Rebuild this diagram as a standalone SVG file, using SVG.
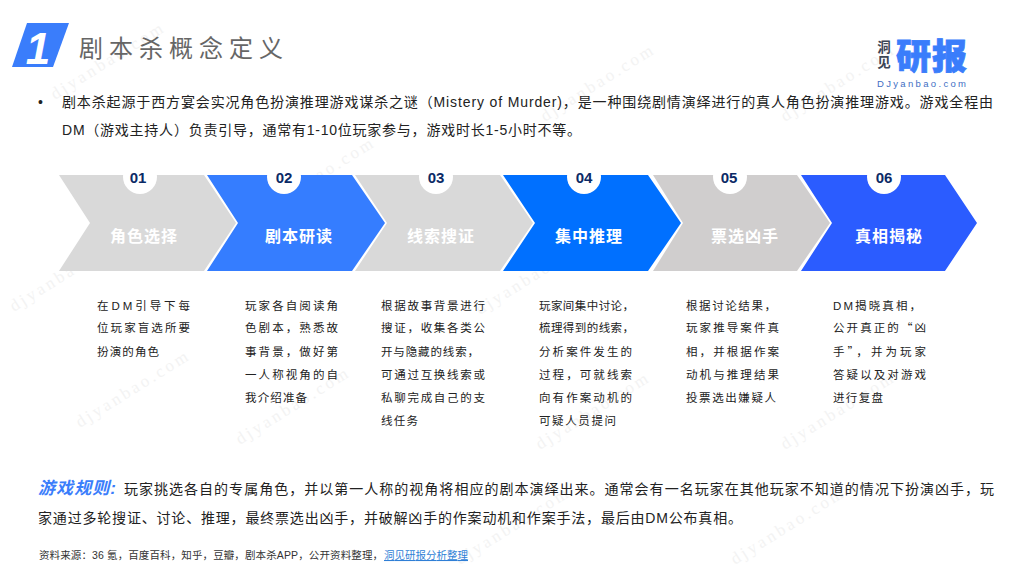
<svg xmlns="http://www.w3.org/2000/svg" width="1024" height="576" viewBox="0 0 1024 576">
<style>
text{font-family:"Liberation Sans","Noto Sans CJK SC",sans-serif}
.b{font-size:14px;fill:#222}
.d{font-size:11.5px;fill:#222}
.q{font-family:"Noto Sans CJK SC",sans-serif}
.n{font-size:15px;font-weight:700;fill:#0b2a66;text-anchor:middle}
.l{font-size:16px;font-weight:700;fill:#fff;text-anchor:middle;letter-spacing:1px}
.w{font-family:"Liberation Serif","Noto Sans CJK SC",serif;font-size:17px;fill:#f3f3f3;letter-spacing:3px}
</style>
<g id="watermark">
<text class="w" transform="translate(55 100) rotate(-32)">djyanbao.com</text>
<text class="w" transform="translate(545 122) rotate(-32)">djyanbao.com</text>
<text class="w" transform="translate(785 122) rotate(-32)">djyanbao.com</text>
<text class="w" transform="translate(14 312) rotate(-32)">djyanbao.com</text>
<text class="w" transform="translate(265 215) rotate(-32)">djyanbao.com</text>
<text class="w" transform="translate(480 315) rotate(-32)">djyanbao.com</text>
<text class="w" transform="translate(80 428) rotate(-32)">djyanbao.com</text>
<text class="w" transform="translate(240 445) rotate(-32)">djyanbao.com</text>
<text class="w" transform="translate(540 450) rotate(-32)">djyanbao.com</text>
<text class="w" transform="translate(785 450) rotate(-32)">djyanbao.com</text>
<text class="w" transform="translate(460 565) rotate(-32)">djyanbao.com</text>
<text class="w" transform="translate(735 565) rotate(-32)">djyanbao.com</text>
</g>
<g id="title">
<polygon points="27,23 69,23 53,67 12,67" fill="#3a7dfb"/>
<text x="38" y="64" font-size="44" font-weight="700" font-style="italic" fill="#fff" text-anchor="middle">1</text>
<text x="79" y="57" font-size="24" fill="#666" textLength="204">剧本杀概念定义</text>
</g>
<g id="logo">
<text x="884" y="52" font-size="13.5" font-weight="700" fill="#3d4655" text-anchor="middle">洞</text>
<text x="884" y="67" font-size="13.5" font-weight="700" fill="#3d4655" text-anchor="middle">见</text>
<text x="896" y="69" font-size="35" font-weight="900" fill="#3a7dfb" textLength="71" stroke="#3a7dfb" stroke-width="0.8">研报</text>
<text x="877" y="87" font-size="9.5" fill="#3f6fc4" textLength="89">DJyanbao.com</text>
</g>
<g id="intro">
<text x="38" y="107" font-size="14" fill="#222">•</text>
<text class="b" x="62" y="107" textLength="931">剧本杀起源于西方宴会实况角色扮演推理游戏谋杀之谜（Mistery of Murder)，是一种围绕剧情演绎进行的真人角色扮演推理游戏。游戏全程由</text>
<text class="b" x="62" y="135" textLength="519">DM（游戏主持人）负责引导，通常有1-10位玩家参与，游戏时长1-5小时不等。</text>
</g>
<g id="step1"><polygon points="59,175 204,175 236,223 204,271 59,271 90,223" fill="#d9d9d9"/><circle cx="140" cy="177" r="17" fill="#fff"/><text class="n" x="138" y="183">01</text><text class="l" x="144" y="242">角色选择</text></g>
<g id="step2"><polygon points="207,175 352,175 385,223 352,271 207,271 238,223" fill="#357dff"/><circle cx="284" cy="177" r="17" fill="#fff"/><text class="n" x="284" y="183">02</text><text class="l" x="299" y="242">剧本研读</text></g>
<g id="step3"><polygon points="355,175 500,175 533,223 500,271 355,271 387,223" fill="#d9d9d9"/><circle cx="436" cy="177" r="17" fill="#fff"/><text class="n" x="436" y="183">03</text><text class="l" x="441" y="242">线索搜证</text></g>
<g id="step4"><polygon points="503,175 648,175 681,223 648,271 503,271 535,223" fill="#0070ff"/><circle cx="584" cy="177" r="17" fill="#fff"/><text class="n" x="584" y="183">04</text><text class="l" x="589" y="242">集中推理</text></g>
<g id="step5"><polygon points="653,175 797,175 830,223 797,271 653,271 683,223" fill="#d0cece"/><circle cx="730" cy="177" r="17" fill="#fff"/><text class="n" x="729" y="183">05</text><text class="l" x="745" y="242">票选凶手</text></g>
<g id="step6"><polygon points="801,175 945,175 977,223 945,271 801,271 832,223" fill="#2b5cff"/><circle cx="884" cy="177" r="17" fill="#fff"/><text class="n" x="884" y="183">06</text><text class="l" x="889" y="242">真相揭秘</text></g>
<g id="desc1">
<text class="d" x="97" y="310" textLength="93">在DM引导下每</text>
<text class="d" x="97" y="332" textLength="93">位玩家盲选所要</text>
<text class="d" x="97" y="356" textLength="62">扮演的角色</text>
</g>
<g id="desc2">
<text class="d" x="245" y="310" textLength="93">玩家各自阅读角</text>
<text class="d" x="245" y="332" textLength="93">色剧本，熟悉故</text>
<text class="d" x="245" y="356" textLength="93">事背景，做好第</text>
<text class="d" x="245" y="379" textLength="93">一人称视角的自</text>
<text class="d" x="245" y="402" textLength="62">我介绍准备</text>
</g>
<g id="desc3">
<text class="d" x="381" y="310" textLength="104">根据故事背景进行</text>
<text class="d" x="381" y="332" textLength="104">搜证，收集各类公</text>
<text class="d" x="381" y="356" textLength="98">开与隐藏的线索，</text>
<text class="d" x="381" y="379" textLength="104">可通过互换线索或</text>
<text class="d" x="381" y="402" textLength="104">私聊完成自己的支</text>
<text class="d" x="381" y="425" textLength="37">线任务</text>
</g>
<g id="desc4">
<text class="d" x="539" y="310" textLength="95">玩家间集中讨论，</text>
<text class="d" x="539" y="332" textLength="95">梳理得到的线索，</text>
<text class="d" x="539" y="356" textLength="93">分析案件发生的</text>
<text class="d" x="539" y="379" textLength="93">过程，可就线索</text>
<text class="d" x="539" y="402" textLength="93">向有作案动机的</text>
<text class="d" x="539" y="425" textLength="77">可疑人员提问</text>
</g>
<g id="desc5">
<text class="d" x="686" y="310" textLength="90">根据讨论结果，</text>
<text class="d" x="686" y="332" textLength="93">玩家推导案件真</text>
<text class="d" x="686" y="356" textLength="93">相，并根据作案</text>
<text class="d" x="686" y="379" textLength="93">动机与推理结果</text>
<text class="d" x="686" y="402" textLength="90">投票选出嫌疑人</text>
</g>
<g id="desc6">
<text class="d" x="833" y="310" textLength="88">DM揭晓真相，</text>
<text class="d q" x="833" y="332" textLength="93">公开真正的“凶</text>
<text class="d q" x="833" y="356" textLength="93">手”，并为玩家</text>
<text class="d" x="833" y="379" textLength="93">答疑以及对游戏</text>
<text class="d" x="833" y="402" textLength="50">进行复盘</text>
</g>
<g id="rules">
<text x="38" y="494" font-size="17" font-weight="700" font-style="italic" fill="#3a7dfb" textLength="78">游戏规则:</text>
<text class="b" x="124" y="494" textLength="870">玩家挑选各自的专属角色，并以第一人称的视角将相应的剧本演绎出来。通常会有一名玩家在其他玩家不知道的情况下扮演凶手，玩</text>
<text class="b" x="38" y="523" textLength="704">家通过多轮搜证、讨论、推理，最终票选出凶手，并破解凶手的作案动机和作案手法，最后由DM公布真相。</text>
</g>
<g id="source">
<text x="39" y="559" font-size="10.5" fill="#333" textLength="344">资料来源：36 氪，百度百科，知乎，豆瓣，剧本杀APP，公开资料整理，</text>
<text x="384" y="559" font-size="10.5" fill="#2f7fd6" text-decoration="underline" textLength="84">洞见研报分析整理</text>
</g>
</svg>
